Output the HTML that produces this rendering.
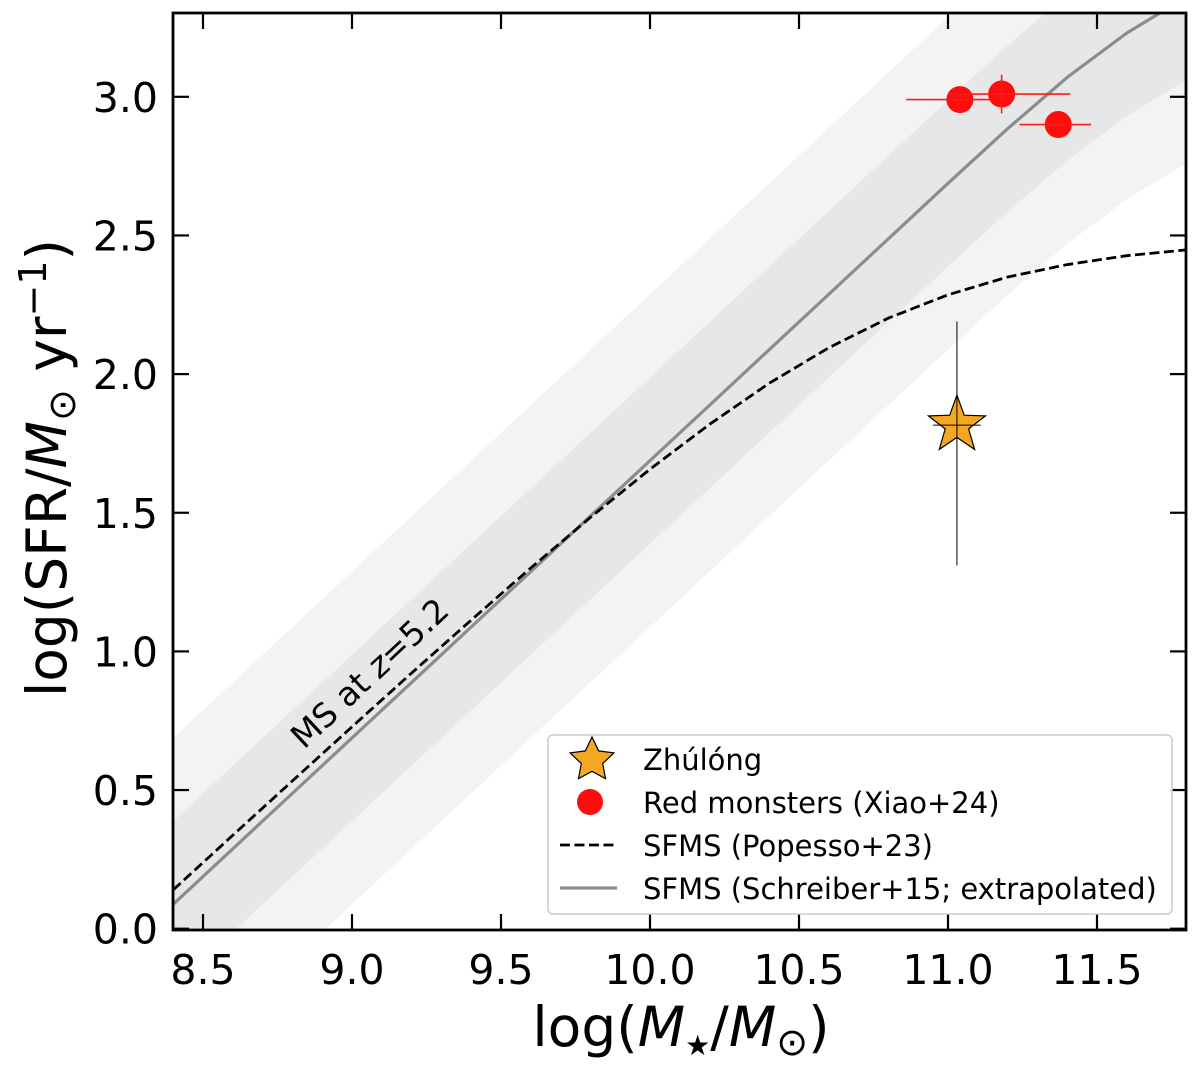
<!DOCTYPE html>
<html><head><meta charset="utf-8"><style>
body{margin:0;background:#fff}
svg text{font-family:"DejaVu Sans","Liberation Sans",sans-serif;fill:#000}
</style></head><body>
<svg id="chart" width="1200" height="1068" viewBox="0 0 1200 1068" xmlns="http://www.w3.org/2000/svg">
<defs><clipPath id="clip"><rect x="173" y="13" width="1013" height="917"/></clipPath></defs>
<g id="plot" clip-path="url(#clip)"></g>
<g id="axes"></g>
</svg>
<script>
const massGrid=[8.4,8.6,8.8,9.0,9.2,9.4,9.6,9.8,10.0,10.2,10.4,10.6,10.8,11.0,11.2,11.4,11.6,11.8];
const schreiberSFR=[0.088,0.288,0.488,0.688,0.888,1.088,1.288,1.488,1.688,1.888,2.088,2.288,2.488,2.688,2.885,3.07,3.23,3.36];
const popessoSFR=[0.140,0.337,0.533,0.728,0.922,1.113,1.301,1.483,1.657,1.819,1.967,2.095,2.202,2.286,2.350,2.395,2.427,2.448];
const bandInner=0.3, bandOuter=0.6;
const redMass=[11.04,11.18,11.37];
const redSFR=[2.99,3.01,2.90];
const redXLo=[10.86,11.0,11.24];
const redXHi=[11.2,11.41,11.48];
const redYErr=[0.0,0.07,0.0];
const starMass=[11.03];
const starSFR=[1.816];
const starXErr=[0.08];
const starYLo=[1.31];
const starYHi=[2.19];
const xTicks=[8.5,9.0,9.5,10.0,10.5,11.0,11.5];
const yTicks=[0.0,0.5,1.0,1.5,2.0,2.5,3.0];

const NS="http://www.w3.org/2000/svg";
const X=v=>203+(v-8.5)*298;
const Y=v=>928.7-v*277.3;
const plot=document.getElementById('plot'), axes=document.getElementById('axes');
function mk(tag,attrs,parent){const e=document.createElementNS(NS,tag);for(const k in attrs)e.setAttribute(k,attrs[k]);parent.appendChild(e);return e;}
function bandPath(off){
  let up=massGrid.map((m,i)=>X(m)+','+Y(schreiberSFR[i]+off));
  let lo=massGrid.map((m,i)=>X(m)+','+Y(schreiberSFR[i]-off)).reverse();
  return 'M'+up.join('L')+'L'+lo.join('L')+'Z';
}
let b1=mk('path',{d:bandPath(bandOuter),fill:'#f3f3f3'},plot);


let b2=mk('path',{d:bandPath(bandInner),fill:'#e7e7e7'},plot);


const line=arr=>'M'+massGrid.map((m,i)=>X(m)+','+Y(arr[i])).join('L');
let sl=mk('path',{d:line(schreiberSFR),fill:'none',stroke:'#8c8c8c','stroke-width':3.2},plot);


let pl=mk('path',{d:line(popessoSFR),fill:'none',stroke:'#000','stroke-width':2.8,'stroke-dasharray':'10,4.5'},plot);


let ms=mk('text',{x:0,y:0,'font-size':33,transform:'translate(304,750) rotate(-43)'},plot);
ms.innerHTML='MS at <tspan font-style="italic">z</tspan>=5.2';


redMass.forEach((m,i)=>{
  const g=mk('g',{},plot);
  
  
  mk('circle',{cx:X(m),cy:Y(redSFR[i]),r:13.5,fill:'#ff0d0d'},g);
  mk('line',{x1:X(redXLo[i]),x2:X(redXHi[i]),y1:Y(redSFR[i]),y2:Y(redSFR[i]),stroke:'#ff1a1a','stroke-width':1.6},g);
  if(redYErr[i]>0)mk('line',{x1:X(m),x2:X(m),y1:Y(redSFR[i]-redYErr[i]),y2:Y(redSFR[i]+redYErr[i]),stroke:'#ff1a1a','stroke-width':1.6},g);
});
function starPts(cx,cy,R,r){let p=[];for(let k=0;k<10;k++){const a=-Math.PI/2+k*Math.PI/5;const rr=k%2?r:R;p.push((cx+rr*Math.cos(a)).toFixed(1)+','+(cy+rr*Math.sin(a)).toFixed(1));}return p.join(' ');}
starMass.forEach((m,i)=>{
  const g=mk('g',{},plot);
  
  
  mk('polygon',{points:starPts(X(m),Y(starSFR[i]),30,12.3),fill:'#f5a623',stroke:'#000','stroke-width':1.2},g);
  mk('line',{x1:X(m),x2:X(m),y1:Y(starYLo[i]),y2:Y(starYHi[i]),stroke:'#000','stroke-width':1},g);
  mk('line',{x1:X(m-starXErr[i]),x2:X(m+starXErr[i]),y1:Y(starSFR[i]),y2:Y(starSFR[i]),stroke:'#000','stroke-width':1},g);
});
let fr=mk('rect',{x:173,y:13,width:1013,height:917,fill:'none',stroke:'#000','stroke-width':2.8},axes);


xTicks.forEach(t=>{
  const x=X(t);
  mk('line',{x1:x,x2:x,y1:930,y2:914,stroke:'#000','stroke-width':2.2},axes);
  mk('line',{x1:x,x2:x,y1:13,y2:29,stroke:'#000','stroke-width':2.2},axes);
  const tx=mk('text',{x:x,y:984,'font-size':41,'text-anchor':'middle'},axes);
  tx.textContent=t.toFixed(1);
  
  
});
yTicks.forEach(t=>{
  const y=Y(t);
  mk('line',{x1:173,x2:189,y1:y,y2:y,stroke:'#000','stroke-width':2.2},axes);
  mk('line',{x1:1186,x2:1170,y1:y,y2:y,stroke:'#000','stroke-width':2.2},axes);
  const tx=mk('text',{x:158,y:y+15,'font-size':41,'text-anchor':'end'},axes);
  tx.textContent=t.toFixed(1);
  
  
});
</script>
<svg style="position:absolute;left:0;top:0" width="1200" height="1068">
<text x="681" y="1046" font-size="55" text-anchor="middle" font-family="DejaVu Sans, Liberation Sans, sans-serif">log(<tspan font-style="italic">M</tspan><tspan font-size="28" dy="9">★</tspan><tspan dy="-9">/</tspan><tspan font-style="italic">M</tspan><tspan font-size="38" dy="9">⊙</tspan><tspan dy="-9">)</tspan></text>
<text transform="translate(66,468) rotate(-90)" font-size="55" text-anchor="middle" font-family="DejaVu Sans, Liberation Sans, sans-serif">log(SFR/<tspan font-style="italic">M</tspan><tspan font-size="38" dy="9">⊙</tspan><tspan dy="-9"> yr</tspan><tspan font-size="38" dy="-20">−1</tspan><tspan dy="20">)</tspan></text>
<g font-family="DejaVu Sans, Liberation Sans, sans-serif" font-size="29">
<rect x="548" y="735" width="624" height="179" rx="5" fill="#fff" fill-opacity="0.85" stroke="#ccc" stroke-width="1.5"/>
<polygon points="592,737 598.6,750.9 613.9,752.9 602.7,763.5 605.5,778.6 592,771.3 578.5,778.6 581.3,763.5 570.1,752.9 585.4,750.9" fill="#f5a623" stroke="#000" stroke-width="1.2"/>
<text x="643" y="770">Zhúlóng</text>
<circle cx="590" cy="802" r="13" fill="#ff0d0d"/>
<text x="643" y="813">Red monsters (Xiao+24)</text>
<line x1="560" x2="617" y1="845" y2="845" stroke="#000" stroke-width="2.8" stroke-dasharray="10,4.5"/>
<text x="643" y="856">SFMS (Popesso+23)</text>
<line x1="560" x2="617" y1="888" y2="888" stroke="#8c8c8c" stroke-width="3.2"/>
<text x="643" y="899">SFMS (Schreiber+15; extrapolated)</text>
</g>
</svg>
</body></html>
